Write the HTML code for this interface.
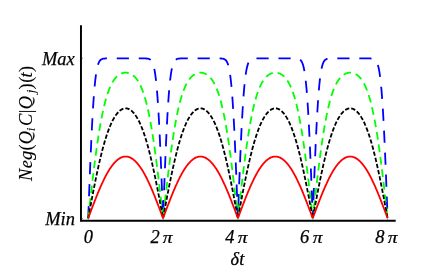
<!DOCTYPE html>
<html><head><meta charset="utf-8"><style>
html,body{margin:0;padding:0;background:#fff;}
svg{display:block;will-change:transform;}
text{font-family:"Liberation Serif",serif;font-style:italic;fill:#000;stroke:#000;stroke-width:0.25px;}
.yl text{stroke-width:0.1px;}
</style></head><body>
<svg width="436" height="270" viewBox="0 0 436 270">
<rect width="436" height="270" fill="#fff"/>
<path d="M88.20,218.30 L88.67,205.76 L89.14,193.34 L89.60,181.16 L90.07,169.33 L90.54,157.94 L91.01,147.09 L91.47,136.85 L91.94,127.28 L92.41,118.43 L92.88,110.31 L93.35,102.95 L93.81,96.33 L94.28,90.44 L94.75,85.25 L95.22,80.72 L95.69,76.81 L96.15,73.46 L96.62,70.63 L97.09,68.25 L97.56,66.27 L98.02,64.64 L98.49,63.32 L98.96,62.24 L99.43,61.38 L99.90,60.70 L100.36,60.16 L100.83,59.74 L101.30,59.42 L101.77,59.17 L102.23,58.97 L102.70,58.83 L103.17,58.72 L103.64,58.64 L104.11,58.57 L104.57,58.53 L105.04,58.49 L105.51,58.47 L105.98,58.45 L106.44,58.44 L106.91,58.43 L107.38,58.42 L107.85,58.41 L108.32,58.41 L108.78,58.41 L109.25,58.41 L109.72,58.40 L110.19,58.40 L110.66,58.40 L111.12,58.40 L111.59,58.40 L112.06,58.40 L112.53,58.40 L112.99,58.40 L113.46,58.40 L113.93,58.40 L114.40,58.40 L114.87,58.40 L115.33,58.40 L115.80,58.40 L116.27,58.40 L116.74,58.40 L117.20,58.40 L117.67,58.40 L118.14,58.40 L118.61,58.40 L119.08,58.40 L119.54,58.40 L120.01,58.40 L120.48,58.40 L120.95,58.40 L121.41,58.40 L121.88,58.40 L122.35,58.40 L122.82,58.40 L123.29,58.40 L123.75,58.40 L124.22,58.40 L124.69,58.40 L125.16,58.40 L125.62,58.40 L126.09,58.40 L126.56,58.40 L127.03,58.40 L127.50,58.40 L127.96,58.40 L128.43,58.40 L128.90,58.40 L129.37,58.40 L129.84,58.40 L130.30,58.40 L130.77,58.40 L131.24,58.40 L131.71,58.40 L132.17,58.40 L132.64,58.40 L133.11,58.40 L133.58,58.40 L134.05,58.40 L134.51,58.40 L134.98,58.40 L135.45,58.40 L135.92,58.40 L136.38,58.40 L136.85,58.40 L137.32,58.40 L137.79,58.40 L138.26,58.40 L138.72,58.40 L139.19,58.40 L139.66,58.40 L140.13,58.40 L140.59,58.40 L141.06,58.40 L141.53,58.40 L142.00,58.41 L142.47,58.41 L142.93,58.41 L143.40,58.41 L143.87,58.42 L144.34,58.43 L144.81,58.44 L145.27,58.45 L145.74,58.47 L146.21,58.49 L146.68,58.53 L147.14,58.57 L147.61,58.64 L148.08,58.72 L148.55,58.83 L149.02,58.97 L149.48,59.17 L149.95,59.42 L150.42,59.74 L150.89,60.16 L151.35,60.70 L151.82,61.38 L152.29,62.24 L152.76,63.32 L153.23,64.64 L153.69,66.27 L154.16,68.25 L154.63,70.63 L155.10,73.46 L155.56,76.81 L156.03,80.72 L156.50,85.25 L156.97,90.44 L157.44,96.33 L157.90,102.95 L158.37,110.31 L158.84,118.43 L159.31,127.28 L159.78,136.85 L160.24,147.09 L160.71,157.94 L161.18,169.33 L161.65,181.16 L162.11,193.34 L162.58,205.76 L163.05,217.40 L163.52,205.76 L163.99,193.34 L164.45,181.16 L164.92,169.33 L165.39,157.94 L165.86,147.09 L166.32,136.85 L166.79,127.28 L167.26,118.43 L167.73,110.31 L168.20,102.95 L168.66,96.33 L169.13,90.44 L169.60,85.25 L170.07,80.72 L170.53,76.81 L171.00,73.46 L171.47,70.63 L171.94,68.25 L172.41,66.27 L172.87,64.64 L173.34,63.32 L173.81,62.24 L174.28,61.38 L174.75,60.70 L175.21,60.16 L175.68,59.74 L176.15,59.42 L176.62,59.17 L177.08,58.97 L177.55,58.83 L178.02,58.72 L178.49,58.64 L178.96,58.57 L179.42,58.53 L179.89,58.49 L180.36,58.47 L180.83,58.45 L181.29,58.44 L181.76,58.43 L182.23,58.42 L182.70,58.41 L183.17,58.41 L183.63,58.41 L184.10,58.41 L184.57,58.40 L185.04,58.40 L185.50,58.40 L185.97,58.40 L186.44,58.40 L186.91,58.40 L187.38,58.40 L187.84,58.40 L188.31,58.40 L188.78,58.40 L189.25,58.40 L189.72,58.40 L190.18,58.40 L190.65,58.40 L191.12,58.40 L191.59,58.40 L192.05,58.40 L192.52,58.40 L192.99,58.40 L193.46,58.40 L193.93,58.40 L194.39,58.40 L194.86,58.40 L195.33,58.40 L195.80,58.40 L196.26,58.40 L196.73,58.40 L197.20,58.40 L197.67,58.40 L198.14,58.40 L198.60,58.40 L199.07,58.40 L199.54,58.40 L200.01,58.40 L200.47,58.40 L200.94,58.40 L201.41,58.40 L201.88,58.40 L202.35,58.40 L202.81,58.40 L203.28,58.40 L203.75,58.40 L204.22,58.40 L204.69,58.40 L205.15,58.40 L205.62,58.40 L206.09,58.40 L206.56,58.40 L207.02,58.40 L207.49,58.40 L207.96,58.40 L208.43,58.40 L208.90,58.40 L209.36,58.40 L209.83,58.40 L210.30,58.40 L210.77,58.40 L211.23,58.40 L211.70,58.40 L212.17,58.40 L212.64,58.40 L213.11,58.40 L213.57,58.40 L214.04,58.40 L214.51,58.40 L214.98,58.40 L215.44,58.40 L215.91,58.40 L216.38,58.40 L216.85,58.41 L217.32,58.41 L217.78,58.41 L218.25,58.41 L218.72,58.42 L219.19,58.43 L219.66,58.44 L220.12,58.45 L220.59,58.47 L221.06,58.49 L221.53,58.53 L221.99,58.57 L222.46,58.64 L222.93,58.72 L223.40,58.83 L223.87,58.97 L224.33,59.17 L224.80,59.42 L225.27,59.74 L225.74,60.16 L226.20,60.70 L226.67,61.38 L227.14,62.24 L227.61,63.32 L228.08,64.64 L228.54,66.27 L229.01,68.25 L229.48,70.63 L229.95,73.46 L230.41,76.81 L230.88,80.72 L231.35,85.25 L231.82,90.44 L232.29,96.33 L232.75,102.95 L233.22,110.31 L233.69,118.43 L234.16,127.28 L234.63,136.85 L235.09,147.09 L235.56,157.94 L236.03,169.33 L236.50,181.16 L236.96,193.34 L237.43,205.76 L237.90,217.40 L238.37,205.76 L238.84,193.34 L239.30,181.16 L239.77,169.33 L240.24,157.94 L240.71,147.09 L241.17,136.85 L241.64,127.28 L242.11,118.43 L242.58,110.31 L243.05,102.95 L243.51,96.33 L243.98,90.44 L244.45,85.25 L244.92,80.72 L245.38,76.81 L245.85,73.46 L246.32,70.63 L246.79,68.25 L247.26,66.27 L247.72,64.64 L248.19,63.32 L248.66,62.24 L249.13,61.38 L249.60,60.70 L250.06,60.16 L250.53,59.74 L251.00,59.42 L251.47,59.17 L251.93,58.97 L252.40,58.83 L252.87,58.72 L253.34,58.64 L253.81,58.57 L254.27,58.53 L254.74,58.49 L255.21,58.47 L255.68,58.45 L256.14,58.44 L256.61,58.43 L257.08,58.42 L257.55,58.41 L258.02,58.41 L258.48,58.41 L258.95,58.41 L259.42,58.40 L259.89,58.40 L260.35,58.40 L260.82,58.40 L261.29,58.40 L261.76,58.40 L262.23,58.40 L262.69,58.40 L263.16,58.40 L263.63,58.40 L264.10,58.40 L264.57,58.40 L265.03,58.40 L265.50,58.40 L265.97,58.40 L266.44,58.40 L266.90,58.40 L267.37,58.40 L267.84,58.40 L268.31,58.40 L268.78,58.40 L269.24,58.40 L269.71,58.40 L270.18,58.40 L270.65,58.40 L271.11,58.40 L271.58,58.40 L272.05,58.40 L272.52,58.40 L272.99,58.40 L273.45,58.40 L273.92,58.40 L274.39,58.40 L274.86,58.40 L275.32,58.40 L275.79,58.40 L276.26,58.40 L276.73,58.40 L277.20,58.40 L277.66,58.40 L278.13,58.40 L278.60,58.40 L279.07,58.40 L279.54,58.40 L280.00,58.40 L280.47,58.40 L280.94,58.40 L281.41,58.40 L281.87,58.40 L282.34,58.40 L282.81,58.40 L283.28,58.40 L283.75,58.40 L284.21,58.40 L284.68,58.40 L285.15,58.40 L285.62,58.40 L286.08,58.40 L286.55,58.40 L287.02,58.40 L287.49,58.40 L287.96,58.40 L288.42,58.40 L288.89,58.40 L289.36,58.40 L289.83,58.40 L290.30,58.40 L290.76,58.40 L291.23,58.40 L291.70,58.41 L292.17,58.41 L292.63,58.41 L293.10,58.41 L293.57,58.42 L294.04,58.43 L294.51,58.44 L294.97,58.45 L295.44,58.47 L295.91,58.49 L296.38,58.53 L296.84,58.57 L297.31,58.64 L297.78,58.72 L298.25,58.83 L298.72,58.97 L299.18,59.17 L299.65,59.42 L300.12,59.74 L300.59,60.16 L301.05,60.70 L301.52,61.38 L301.99,62.24 L302.46,63.32 L302.93,64.64 L303.39,66.27 L303.86,68.25 L304.33,70.63 L304.80,73.46 L305.26,76.81 L305.73,80.72 L306.20,85.25 L306.67,90.44 L307.14,96.33 L307.60,102.95 L308.07,110.31 L308.54,118.43 L309.01,127.28 L309.48,136.85 L309.94,147.09 L310.41,157.94 L310.88,169.33 L311.35,181.16 L311.81,193.34 L312.28,205.76 L312.75,217.40 L313.22,205.76 L313.69,193.34 L314.15,181.16 L314.62,169.33 L315.09,157.94 L315.56,147.09 L316.02,136.85 L316.49,127.28 L316.96,118.43 L317.43,110.31 L317.90,102.95 L318.36,96.33 L318.83,90.44 L319.30,85.25 L319.77,80.72 L320.24,76.81 L320.70,73.46 L321.17,70.63 L321.64,68.25 L322.11,66.27 L322.57,64.64 L323.04,63.32 L323.51,62.24 L323.98,61.38 L324.45,60.70 L324.91,60.16 L325.38,59.74 L325.85,59.42 L326.32,59.17 L326.78,58.97 L327.25,58.83 L327.72,58.72 L328.19,58.64 L328.66,58.57 L329.12,58.53 L329.59,58.49 L330.06,58.47 L330.53,58.45 L330.99,58.44 L331.46,58.43 L331.93,58.42 L332.40,58.41 L332.87,58.41 L333.33,58.41 L333.80,58.41 L334.27,58.40 L334.74,58.40 L335.20,58.40 L335.67,58.40 L336.14,58.40 L336.61,58.40 L337.08,58.40 L337.54,58.40 L338.01,58.40 L338.48,58.40 L338.95,58.40 L339.42,58.40 L339.88,58.40 L340.35,58.40 L340.82,58.40 L341.29,58.40 L341.75,58.40 L342.22,58.40 L342.69,58.40 L343.16,58.40 L343.63,58.40 L344.09,58.40 L344.56,58.40 L345.03,58.40 L345.50,58.40 L345.96,58.40 L346.43,58.40 L346.90,58.40 L347.37,58.40 L347.84,58.40 L348.30,58.40 L348.77,58.40 L349.24,58.40 L349.71,58.40 L350.17,58.40 L350.64,58.40 L351.11,58.40 L351.58,58.40 L352.05,58.40 L352.51,58.40 L352.98,58.40 L353.45,58.40 L353.92,58.40 L354.39,58.40 L354.85,58.40 L355.32,58.40 L355.79,58.40 L356.26,58.40 L356.72,58.40 L357.19,58.40 L357.66,58.40 L358.13,58.40 L358.60,58.40 L359.06,58.40 L359.53,58.40 L360.00,58.40 L360.47,58.40 L360.93,58.40 L361.40,58.40 L361.87,58.40 L362.34,58.40 L362.81,58.40 L363.27,58.40 L363.74,58.40 L364.21,58.40 L364.68,58.40 L365.14,58.40 L365.61,58.40 L366.08,58.40 L366.55,58.41 L367.02,58.41 L367.48,58.41 L367.95,58.41 L368.42,58.42 L368.89,58.43 L369.36,58.44 L369.82,58.45 L370.29,58.47 L370.76,58.49 L371.23,58.53 L371.69,58.57 L372.16,58.64 L372.63,58.72 L373.10,58.83 L373.57,58.97 L374.03,59.17 L374.50,59.42 L374.97,59.74 L375.44,60.16 L375.90,60.70 L376.37,61.38 L376.84,62.24 L377.31,63.32 L377.78,64.64 L378.24,66.27 L378.71,68.25 L379.18,70.63 L379.65,73.46 L380.11,76.81 L380.58,80.72 L381.05,85.25 L381.52,90.44 L381.99,96.33 L382.45,102.95 L382.92,110.31 L383.39,118.43 L383.86,127.28 L384.33,136.85 L384.79,147.09 L385.26,157.94 L385.73,169.33 L386.20,181.16 L386.66,193.34 L387.13,205.76 L387.60,218.30" fill="none" stroke="#0000ff" stroke-width="1.8" stroke-linejoin="bevel" stroke-dasharray="12.2 9.8" stroke-dashoffset="0"/>
<path d="M88.20,218.30 L88.67,214.12 L89.14,209.95 L89.60,205.80 L90.07,201.65 L90.54,197.54 L91.01,193.45 L91.47,189.39 L91.94,185.38 L92.41,181.41 L92.88,177.49 L93.35,173.62 L93.81,169.81 L94.28,166.07 L94.75,162.39 L95.22,158.78 L95.69,155.24 L96.15,151.79 L96.62,148.41 L97.09,145.11 L97.56,141.89 L98.02,138.76 L98.49,135.72 L98.96,132.76 L99.43,129.90 L99.90,127.12 L100.36,124.43 L100.83,121.83 L101.30,119.32 L101.77,116.89 L102.23,114.56 L102.70,112.31 L103.17,110.15 L103.64,108.07 L104.11,106.08 L104.57,104.16 L105.04,102.33 L105.51,100.58 L105.98,98.90 L106.44,97.29 L106.91,95.76 L107.38,94.30 L107.85,92.91 L108.32,91.58 L108.78,90.32 L109.25,89.11 L109.72,87.97 L110.19,86.89 L110.66,85.86 L111.12,84.88 L111.59,83.96 L112.06,83.09 L112.53,82.26 L112.99,81.48 L113.46,80.74 L113.93,80.05 L114.40,79.39 L114.87,78.78 L115.33,78.20 L115.80,77.65 L116.27,77.15 L116.74,76.67 L117.20,76.23 L117.67,75.82 L118.14,75.43 L118.61,75.08 L119.08,74.75 L119.54,74.45 L120.01,74.18 L120.48,73.93 L120.95,73.70 L121.41,73.50 L121.88,73.32 L122.35,73.16 L122.82,73.02 L123.29,72.91 L123.75,72.82 L124.22,72.75 L124.69,72.69 L125.16,72.66 L125.62,72.65 L126.09,72.66 L126.56,72.69 L127.03,72.75 L127.50,72.82 L127.96,72.91 L128.43,73.02 L128.90,73.16 L129.37,73.32 L129.84,73.50 L130.30,73.70 L130.77,73.93 L131.24,74.18 L131.71,74.45 L132.17,74.75 L132.64,75.08 L133.11,75.43 L133.58,75.82 L134.05,76.23 L134.51,76.67 L134.98,77.15 L135.45,77.65 L135.92,78.20 L136.38,78.78 L136.85,79.39 L137.32,80.05 L137.79,80.74 L138.26,81.48 L138.72,82.26 L139.19,83.09 L139.66,83.96 L140.13,84.88 L140.59,85.86 L141.06,86.89 L141.53,87.97 L142.00,89.11 L142.47,90.32 L142.93,91.58 L143.40,92.91 L143.87,94.30 L144.34,95.76 L144.81,97.29 L145.27,98.90 L145.74,100.58 L146.21,102.33 L146.68,104.16 L147.14,106.08 L147.61,108.07 L148.08,110.15 L148.55,112.31 L149.02,114.56 L149.48,116.89 L149.95,119.32 L150.42,121.83 L150.89,124.43 L151.35,127.12 L151.82,129.90 L152.29,132.76 L152.76,135.72 L153.23,138.76 L153.69,141.89 L154.16,145.11 L154.63,148.41 L155.10,151.79 L155.56,155.24 L156.03,158.78 L156.50,162.39 L156.97,166.07 L157.44,169.81 L157.90,173.62 L158.37,177.49 L158.84,181.41 L159.31,185.38 L159.78,189.39 L160.24,193.45 L160.71,197.54 L161.18,201.65 L161.65,205.80 L162.11,209.95 L162.58,214.12 L163.05,218.30 L163.52,214.12 L163.99,209.95 L164.45,205.80 L164.92,201.65 L165.39,197.54 L165.86,193.45 L166.32,189.39 L166.79,185.38 L167.26,181.41 L167.73,177.49 L168.20,173.62 L168.66,169.81 L169.13,166.07 L169.60,162.39 L170.07,158.78 L170.53,155.24 L171.00,151.79 L171.47,148.41 L171.94,145.11 L172.41,141.89 L172.87,138.76 L173.34,135.72 L173.81,132.76 L174.28,129.90 L174.75,127.12 L175.21,124.43 L175.68,121.83 L176.15,119.32 L176.62,116.89 L177.08,114.56 L177.55,112.31 L178.02,110.15 L178.49,108.07 L178.96,106.08 L179.42,104.16 L179.89,102.33 L180.36,100.58 L180.83,98.90 L181.29,97.29 L181.76,95.76 L182.23,94.30 L182.70,92.91 L183.17,91.58 L183.63,90.32 L184.10,89.11 L184.57,87.97 L185.04,86.89 L185.50,85.86 L185.97,84.88 L186.44,83.96 L186.91,83.09 L187.38,82.26 L187.84,81.48 L188.31,80.74 L188.78,80.05 L189.25,79.39 L189.72,78.78 L190.18,78.20 L190.65,77.65 L191.12,77.15 L191.59,76.67 L192.05,76.23 L192.52,75.82 L192.99,75.43 L193.46,75.08 L193.93,74.75 L194.39,74.45 L194.86,74.18 L195.33,73.93 L195.80,73.70 L196.26,73.50 L196.73,73.32 L197.20,73.16 L197.67,73.02 L198.14,72.91 L198.60,72.82 L199.07,72.75 L199.54,72.69 L200.01,72.66 L200.47,72.65 L200.94,72.66 L201.41,72.69 L201.88,72.75 L202.35,72.82 L202.81,72.91 L203.28,73.02 L203.75,73.16 L204.22,73.32 L204.69,73.50 L205.15,73.70 L205.62,73.93 L206.09,74.18 L206.56,74.45 L207.02,74.75 L207.49,75.08 L207.96,75.43 L208.43,75.82 L208.90,76.23 L209.36,76.67 L209.83,77.15 L210.30,77.65 L210.77,78.20 L211.23,78.78 L211.70,79.39 L212.17,80.05 L212.64,80.74 L213.11,81.48 L213.57,82.26 L214.04,83.09 L214.51,83.96 L214.98,84.88 L215.44,85.86 L215.91,86.89 L216.38,87.97 L216.85,89.11 L217.32,90.32 L217.78,91.58 L218.25,92.91 L218.72,94.30 L219.19,95.76 L219.66,97.29 L220.12,98.90 L220.59,100.58 L221.06,102.33 L221.53,104.16 L221.99,106.08 L222.46,108.07 L222.93,110.15 L223.40,112.31 L223.87,114.56 L224.33,116.89 L224.80,119.32 L225.27,121.83 L225.74,124.43 L226.20,127.12 L226.67,129.90 L227.14,132.76 L227.61,135.72 L228.08,138.76 L228.54,141.89 L229.01,145.11 L229.48,148.41 L229.95,151.79 L230.41,155.24 L230.88,158.78 L231.35,162.39 L231.82,166.07 L232.29,169.81 L232.75,173.62 L233.22,177.49 L233.69,181.41 L234.16,185.38 L234.63,189.39 L235.09,193.45 L235.56,197.54 L236.03,201.65 L236.50,205.80 L236.96,209.95 L237.43,214.12 L237.90,218.30 L238.37,214.12 L238.84,209.95 L239.30,205.80 L239.77,201.65 L240.24,197.54 L240.71,193.45 L241.17,189.39 L241.64,185.38 L242.11,181.41 L242.58,177.49 L243.05,173.62 L243.51,169.81 L243.98,166.07 L244.45,162.39 L244.92,158.78 L245.38,155.24 L245.85,151.79 L246.32,148.41 L246.79,145.11 L247.26,141.89 L247.72,138.76 L248.19,135.72 L248.66,132.76 L249.13,129.90 L249.60,127.12 L250.06,124.43 L250.53,121.83 L251.00,119.32 L251.47,116.89 L251.93,114.56 L252.40,112.31 L252.87,110.15 L253.34,108.07 L253.81,106.08 L254.27,104.16 L254.74,102.33 L255.21,100.58 L255.68,98.90 L256.14,97.29 L256.61,95.76 L257.08,94.30 L257.55,92.91 L258.02,91.58 L258.48,90.32 L258.95,89.11 L259.42,87.97 L259.89,86.89 L260.35,85.86 L260.82,84.88 L261.29,83.96 L261.76,83.09 L262.23,82.26 L262.69,81.48 L263.16,80.74 L263.63,80.05 L264.10,79.39 L264.57,78.78 L265.03,78.20 L265.50,77.65 L265.97,77.15 L266.44,76.67 L266.90,76.23 L267.37,75.82 L267.84,75.43 L268.31,75.08 L268.78,74.75 L269.24,74.45 L269.71,74.18 L270.18,73.93 L270.65,73.70 L271.11,73.50 L271.58,73.32 L272.05,73.16 L272.52,73.02 L272.99,72.91 L273.45,72.82 L273.92,72.75 L274.39,72.69 L274.86,72.66 L275.32,72.65 L275.79,72.66 L276.26,72.69 L276.73,72.75 L277.20,72.82 L277.66,72.91 L278.13,73.02 L278.60,73.16 L279.07,73.32 L279.54,73.50 L280.00,73.70 L280.47,73.93 L280.94,74.18 L281.41,74.45 L281.87,74.75 L282.34,75.08 L282.81,75.43 L283.28,75.82 L283.75,76.23 L284.21,76.67 L284.68,77.15 L285.15,77.65 L285.62,78.20 L286.08,78.78 L286.55,79.39 L287.02,80.05 L287.49,80.74 L287.96,81.48 L288.42,82.26 L288.89,83.09 L289.36,83.96 L289.83,84.88 L290.30,85.86 L290.76,86.89 L291.23,87.97 L291.70,89.11 L292.17,90.32 L292.63,91.58 L293.10,92.91 L293.57,94.30 L294.04,95.76 L294.51,97.29 L294.97,98.90 L295.44,100.58 L295.91,102.33 L296.38,104.16 L296.84,106.08 L297.31,108.07 L297.78,110.15 L298.25,112.31 L298.72,114.56 L299.18,116.89 L299.65,119.32 L300.12,121.83 L300.59,124.43 L301.05,127.12 L301.52,129.90 L301.99,132.76 L302.46,135.72 L302.93,138.76 L303.39,141.89 L303.86,145.11 L304.33,148.41 L304.80,151.79 L305.26,155.24 L305.73,158.78 L306.20,162.39 L306.67,166.07 L307.14,169.81 L307.60,173.62 L308.07,177.49 L308.54,181.41 L309.01,185.38 L309.48,189.39 L309.94,193.45 L310.41,197.54 L310.88,201.65 L311.35,205.80 L311.81,209.95 L312.28,214.12 L312.75,218.30 L313.22,214.12 L313.69,209.95 L314.15,205.80 L314.62,201.65 L315.09,197.54 L315.56,193.45 L316.02,189.39 L316.49,185.38 L316.96,181.41 L317.43,177.49 L317.90,173.62 L318.36,169.81 L318.83,166.07 L319.30,162.39 L319.77,158.78 L320.24,155.24 L320.70,151.79 L321.17,148.41 L321.64,145.11 L322.11,141.89 L322.57,138.76 L323.04,135.72 L323.51,132.76 L323.98,129.90 L324.45,127.12 L324.91,124.43 L325.38,121.83 L325.85,119.32 L326.32,116.89 L326.78,114.56 L327.25,112.31 L327.72,110.15 L328.19,108.07 L328.66,106.08 L329.12,104.16 L329.59,102.33 L330.06,100.58 L330.53,98.90 L330.99,97.29 L331.46,95.76 L331.93,94.30 L332.40,92.91 L332.87,91.58 L333.33,90.32 L333.80,89.11 L334.27,87.97 L334.74,86.89 L335.20,85.86 L335.67,84.88 L336.14,83.96 L336.61,83.09 L337.08,82.26 L337.54,81.48 L338.01,80.74 L338.48,80.05 L338.95,79.39 L339.42,78.78 L339.88,78.20 L340.35,77.65 L340.82,77.15 L341.29,76.67 L341.75,76.23 L342.22,75.82 L342.69,75.43 L343.16,75.08 L343.63,74.75 L344.09,74.45 L344.56,74.18 L345.03,73.93 L345.50,73.70 L345.96,73.50 L346.43,73.32 L346.90,73.16 L347.37,73.02 L347.84,72.91 L348.30,72.82 L348.77,72.75 L349.24,72.69 L349.71,72.66 L350.17,72.65 L350.64,72.66 L351.11,72.69 L351.58,72.75 L352.05,72.82 L352.51,72.91 L352.98,73.02 L353.45,73.16 L353.92,73.32 L354.39,73.50 L354.85,73.70 L355.32,73.93 L355.79,74.18 L356.26,74.45 L356.72,74.75 L357.19,75.08 L357.66,75.43 L358.13,75.82 L358.60,76.23 L359.06,76.67 L359.53,77.15 L360.00,77.65 L360.47,78.20 L360.93,78.78 L361.40,79.39 L361.87,80.05 L362.34,80.74 L362.81,81.48 L363.27,82.26 L363.74,83.09 L364.21,83.96 L364.68,84.88 L365.14,85.86 L365.61,86.89 L366.08,87.97 L366.55,89.11 L367.02,90.32 L367.48,91.58 L367.95,92.91 L368.42,94.30 L368.89,95.76 L369.36,97.29 L369.82,98.90 L370.29,100.58 L370.76,102.33 L371.23,104.16 L371.69,106.08 L372.16,108.07 L372.63,110.15 L373.10,112.31 L373.57,114.56 L374.03,116.89 L374.50,119.32 L374.97,121.83 L375.44,124.43 L375.90,127.12 L376.37,129.90 L376.84,132.76 L377.31,135.72 L377.78,138.76 L378.24,141.89 L378.71,145.11 L379.18,148.41 L379.65,151.79 L380.11,155.24 L380.58,158.78 L381.05,162.39 L381.52,166.07 L381.99,169.81 L382.45,173.62 L382.92,177.49 L383.39,181.41 L383.86,185.38 L384.33,189.39 L384.79,193.45 L385.26,197.54 L385.73,201.65 L386.20,205.80 L386.66,209.95 L387.13,214.12 L387.60,218.30" fill="none" stroke="#00ff00" stroke-width="1.8" stroke-linejoin="bevel" stroke-dasharray="7.7 4.9" stroke-dashoffset="0"/>
<path d="M88.20,218.30 L88.67,215.79 L89.14,213.28 L89.60,210.77 L90.07,208.27 L90.54,205.78 L91.01,203.30 L91.47,200.83 L91.94,198.37 L92.41,195.92 L92.88,193.50 L93.35,191.09 L93.81,188.70 L94.28,186.33 L94.75,183.98 L95.22,181.66 L95.69,179.37 L96.15,177.10 L96.62,174.86 L97.09,172.65 L97.56,170.47 L98.02,168.33 L98.49,166.21 L98.96,164.13 L99.43,162.09 L99.90,160.08 L100.36,158.11 L100.83,156.17 L101.30,154.28 L101.77,152.42 L102.23,150.60 L102.70,148.82 L103.17,147.08 L103.64,145.38 L104.11,143.72 L104.57,142.10 L105.04,140.53 L105.51,138.99 L105.98,137.49 L106.44,136.04 L106.91,134.62 L107.38,133.25 L107.85,131.92 L108.32,130.62 L108.78,129.37 L109.25,128.16 L109.72,126.99 L110.19,125.85 L110.66,124.76 L111.12,123.70 L111.59,122.69 L112.06,121.71 L112.53,120.77 L112.99,119.87 L113.46,119.00 L113.93,118.17 L114.40,117.38 L114.87,116.62 L115.33,115.90 L115.80,115.21 L116.27,114.56 L116.74,113.95 L117.20,113.36 L117.67,112.81 L118.14,112.30 L118.61,111.81 L119.08,111.36 L119.54,110.95 L120.01,110.56 L120.48,110.21 L120.95,109.89 L121.41,109.59 L121.88,109.33 L122.35,109.11 L122.82,108.91 L123.29,108.74 L123.75,108.61 L124.22,108.50 L124.69,108.42 L125.16,108.38 L125.62,108.36 L126.09,108.38 L126.56,108.42 L127.03,108.50 L127.50,108.61 L127.96,108.74 L128.43,108.91 L128.90,109.11 L129.37,109.33 L129.84,109.59 L130.30,109.89 L130.77,110.21 L131.24,110.56 L131.71,110.95 L132.17,111.36 L132.64,111.81 L133.11,112.30 L133.58,112.81 L134.05,113.36 L134.51,113.95 L134.98,114.56 L135.45,115.21 L135.92,115.90 L136.38,116.62 L136.85,117.38 L137.32,118.17 L137.79,119.00 L138.26,119.87 L138.72,120.77 L139.19,121.71 L139.66,122.69 L140.13,123.70 L140.59,124.76 L141.06,125.85 L141.53,126.99 L142.00,128.16 L142.47,129.37 L142.93,130.62 L143.40,131.92 L143.87,133.25 L144.34,134.62 L144.81,136.04 L145.27,137.49 L145.74,138.99 L146.21,140.53 L146.68,142.10 L147.14,143.72 L147.61,145.38 L148.08,147.08 L148.55,148.82 L149.02,150.60 L149.48,152.42 L149.95,154.28 L150.42,156.17 L150.89,158.11 L151.35,160.08 L151.82,162.09 L152.29,164.13 L152.76,166.21 L153.23,168.33 L153.69,170.47 L154.16,172.65 L154.63,174.86 L155.10,177.10 L155.56,179.37 L156.03,181.66 L156.50,183.98 L156.97,186.33 L157.44,188.70 L157.90,191.09 L158.37,193.50 L158.84,195.92 L159.31,198.37 L159.78,200.83 L160.24,203.30 L160.71,205.78 L161.18,208.27 L161.65,210.77 L162.11,213.28 L162.58,215.79 L163.05,218.30 L163.52,215.79 L163.99,213.28 L164.45,210.77 L164.92,208.27 L165.39,205.78 L165.86,203.30 L166.32,200.83 L166.79,198.37 L167.26,195.92 L167.73,193.50 L168.20,191.09 L168.66,188.70 L169.13,186.33 L169.60,183.98 L170.07,181.66 L170.53,179.37 L171.00,177.10 L171.47,174.86 L171.94,172.65 L172.41,170.47 L172.87,168.33 L173.34,166.21 L173.81,164.13 L174.28,162.09 L174.75,160.08 L175.21,158.11 L175.68,156.17 L176.15,154.28 L176.62,152.42 L177.08,150.60 L177.55,148.82 L178.02,147.08 L178.49,145.38 L178.96,143.72 L179.42,142.10 L179.89,140.53 L180.36,138.99 L180.83,137.49 L181.29,136.04 L181.76,134.62 L182.23,133.25 L182.70,131.92 L183.17,130.62 L183.63,129.37 L184.10,128.16 L184.57,126.99 L185.04,125.85 L185.50,124.76 L185.97,123.70 L186.44,122.69 L186.91,121.71 L187.38,120.77 L187.84,119.87 L188.31,119.00 L188.78,118.17 L189.25,117.38 L189.72,116.62 L190.18,115.90 L190.65,115.21 L191.12,114.56 L191.59,113.95 L192.05,113.36 L192.52,112.81 L192.99,112.30 L193.46,111.81 L193.93,111.36 L194.39,110.95 L194.86,110.56 L195.33,110.21 L195.80,109.89 L196.26,109.59 L196.73,109.33 L197.20,109.11 L197.67,108.91 L198.14,108.74 L198.60,108.61 L199.07,108.50 L199.54,108.42 L200.01,108.38 L200.47,108.36 L200.94,108.38 L201.41,108.42 L201.88,108.50 L202.35,108.61 L202.81,108.74 L203.28,108.91 L203.75,109.11 L204.22,109.33 L204.69,109.59 L205.15,109.89 L205.62,110.21 L206.09,110.56 L206.56,110.95 L207.02,111.36 L207.49,111.81 L207.96,112.30 L208.43,112.81 L208.90,113.36 L209.36,113.95 L209.83,114.56 L210.30,115.21 L210.77,115.90 L211.23,116.62 L211.70,117.38 L212.17,118.17 L212.64,119.00 L213.11,119.87 L213.57,120.77 L214.04,121.71 L214.51,122.69 L214.98,123.70 L215.44,124.76 L215.91,125.85 L216.38,126.99 L216.85,128.16 L217.32,129.37 L217.78,130.62 L218.25,131.92 L218.72,133.25 L219.19,134.62 L219.66,136.04 L220.12,137.49 L220.59,138.99 L221.06,140.53 L221.53,142.10 L221.99,143.72 L222.46,145.38 L222.93,147.08 L223.40,148.82 L223.87,150.60 L224.33,152.42 L224.80,154.28 L225.27,156.17 L225.74,158.11 L226.20,160.08 L226.67,162.09 L227.14,164.13 L227.61,166.21 L228.08,168.33 L228.54,170.47 L229.01,172.65 L229.48,174.86 L229.95,177.10 L230.41,179.37 L230.88,181.66 L231.35,183.98 L231.82,186.33 L232.29,188.70 L232.75,191.09 L233.22,193.50 L233.69,195.92 L234.16,198.37 L234.63,200.83 L235.09,203.30 L235.56,205.78 L236.03,208.27 L236.50,210.77 L236.96,213.28 L237.43,215.79 L237.90,218.30 L238.37,215.79 L238.84,213.28 L239.30,210.77 L239.77,208.27 L240.24,205.78 L240.71,203.30 L241.17,200.83 L241.64,198.37 L242.11,195.92 L242.58,193.50 L243.05,191.09 L243.51,188.70 L243.98,186.33 L244.45,183.98 L244.92,181.66 L245.38,179.37 L245.85,177.10 L246.32,174.86 L246.79,172.65 L247.26,170.47 L247.72,168.33 L248.19,166.21 L248.66,164.13 L249.13,162.09 L249.60,160.08 L250.06,158.11 L250.53,156.17 L251.00,154.28 L251.47,152.42 L251.93,150.60 L252.40,148.82 L252.87,147.08 L253.34,145.38 L253.81,143.72 L254.27,142.10 L254.74,140.53 L255.21,138.99 L255.68,137.49 L256.14,136.04 L256.61,134.62 L257.08,133.25 L257.55,131.92 L258.02,130.62 L258.48,129.37 L258.95,128.16 L259.42,126.99 L259.89,125.85 L260.35,124.76 L260.82,123.70 L261.29,122.69 L261.76,121.71 L262.23,120.77 L262.69,119.87 L263.16,119.00 L263.63,118.17 L264.10,117.38 L264.57,116.62 L265.03,115.90 L265.50,115.21 L265.97,114.56 L266.44,113.95 L266.90,113.36 L267.37,112.81 L267.84,112.30 L268.31,111.81 L268.78,111.36 L269.24,110.95 L269.71,110.56 L270.18,110.21 L270.65,109.89 L271.11,109.59 L271.58,109.33 L272.05,109.11 L272.52,108.91 L272.99,108.74 L273.45,108.61 L273.92,108.50 L274.39,108.42 L274.86,108.38 L275.32,108.36 L275.79,108.38 L276.26,108.42 L276.73,108.50 L277.20,108.61 L277.66,108.74 L278.13,108.91 L278.60,109.11 L279.07,109.33 L279.54,109.59 L280.00,109.89 L280.47,110.21 L280.94,110.56 L281.41,110.95 L281.87,111.36 L282.34,111.81 L282.81,112.30 L283.28,112.81 L283.75,113.36 L284.21,113.95 L284.68,114.56 L285.15,115.21 L285.62,115.90 L286.08,116.62 L286.55,117.38 L287.02,118.17 L287.49,119.00 L287.96,119.87 L288.42,120.77 L288.89,121.71 L289.36,122.69 L289.83,123.70 L290.30,124.76 L290.76,125.85 L291.23,126.99 L291.70,128.16 L292.17,129.37 L292.63,130.62 L293.10,131.92 L293.57,133.25 L294.04,134.62 L294.51,136.04 L294.97,137.49 L295.44,138.99 L295.91,140.53 L296.38,142.10 L296.84,143.72 L297.31,145.38 L297.78,147.08 L298.25,148.82 L298.72,150.60 L299.18,152.42 L299.65,154.28 L300.12,156.17 L300.59,158.11 L301.05,160.08 L301.52,162.09 L301.99,164.13 L302.46,166.21 L302.93,168.33 L303.39,170.47 L303.86,172.65 L304.33,174.86 L304.80,177.10 L305.26,179.37 L305.73,181.66 L306.20,183.98 L306.67,186.33 L307.14,188.70 L307.60,191.09 L308.07,193.50 L308.54,195.92 L309.01,198.37 L309.48,200.83 L309.94,203.30 L310.41,205.78 L310.88,208.27 L311.35,210.77 L311.81,213.28 L312.28,215.79 L312.75,218.30 L313.22,215.79 L313.69,213.28 L314.15,210.77 L314.62,208.27 L315.09,205.78 L315.56,203.30 L316.02,200.83 L316.49,198.37 L316.96,195.92 L317.43,193.50 L317.90,191.09 L318.36,188.70 L318.83,186.33 L319.30,183.98 L319.77,181.66 L320.24,179.37 L320.70,177.10 L321.17,174.86 L321.64,172.65 L322.11,170.47 L322.57,168.33 L323.04,166.21 L323.51,164.13 L323.98,162.09 L324.45,160.08 L324.91,158.11 L325.38,156.17 L325.85,154.28 L326.32,152.42 L326.78,150.60 L327.25,148.82 L327.72,147.08 L328.19,145.38 L328.66,143.72 L329.12,142.10 L329.59,140.53 L330.06,138.99 L330.53,137.49 L330.99,136.04 L331.46,134.62 L331.93,133.25 L332.40,131.92 L332.87,130.62 L333.33,129.37 L333.80,128.16 L334.27,126.99 L334.74,125.85 L335.20,124.76 L335.67,123.70 L336.14,122.69 L336.61,121.71 L337.08,120.77 L337.54,119.87 L338.01,119.00 L338.48,118.17 L338.95,117.38 L339.42,116.62 L339.88,115.90 L340.35,115.21 L340.82,114.56 L341.29,113.95 L341.75,113.36 L342.22,112.81 L342.69,112.30 L343.16,111.81 L343.63,111.36 L344.09,110.95 L344.56,110.56 L345.03,110.21 L345.50,109.89 L345.96,109.59 L346.43,109.33 L346.90,109.11 L347.37,108.91 L347.84,108.74 L348.30,108.61 L348.77,108.50 L349.24,108.42 L349.71,108.38 L350.17,108.36 L350.64,108.38 L351.11,108.42 L351.58,108.50 L352.05,108.61 L352.51,108.74 L352.98,108.91 L353.45,109.11 L353.92,109.33 L354.39,109.59 L354.85,109.89 L355.32,110.21 L355.79,110.56 L356.26,110.95 L356.72,111.36 L357.19,111.81 L357.66,112.30 L358.13,112.81 L358.60,113.36 L359.06,113.95 L359.53,114.56 L360.00,115.21 L360.47,115.90 L360.93,116.62 L361.40,117.38 L361.87,118.17 L362.34,119.00 L362.81,119.87 L363.27,120.77 L363.74,121.71 L364.21,122.69 L364.68,123.70 L365.14,124.76 L365.61,125.85 L366.08,126.99 L366.55,128.16 L367.02,129.37 L367.48,130.62 L367.95,131.92 L368.42,133.25 L368.89,134.62 L369.36,136.04 L369.82,137.49 L370.29,138.99 L370.76,140.53 L371.23,142.10 L371.69,143.72 L372.16,145.38 L372.63,147.08 L373.10,148.82 L373.57,150.60 L374.03,152.42 L374.50,154.28 L374.97,156.17 L375.44,158.11 L375.90,160.08 L376.37,162.09 L376.84,164.13 L377.31,166.21 L377.78,168.33 L378.24,170.47 L378.71,172.65 L379.18,174.86 L379.65,177.10 L380.11,179.37 L380.58,181.66 L381.05,183.98 L381.52,186.33 L381.99,188.70 L382.45,191.09 L382.92,193.50 L383.39,195.92 L383.86,198.37 L384.33,200.83 L384.79,203.30 L385.26,205.78 L385.73,208.27 L386.20,210.77 L386.66,213.28 L387.13,215.79 L387.60,218.30" fill="none" stroke="#000000" stroke-width="1.8" stroke-linejoin="bevel" stroke-dasharray="4.35 1.96" stroke-dashoffset="0.55"/>
<path d="M88.20,218.30 L88.67,217.04 L89.14,215.78 L89.60,214.52 L90.07,213.26 L90.54,212.00 L91.01,210.75 L91.47,209.50 L91.94,208.26 L92.41,207.02 L92.88,205.78 L93.35,204.55 L93.81,203.33 L94.28,202.12 L94.75,200.91 L95.22,199.71 L95.69,198.52 L96.15,197.34 L96.62,196.17 L97.09,195.00 L97.56,193.85 L98.02,192.71 L98.49,191.59 L98.96,190.47 L99.43,189.37 L99.90,188.28 L100.36,187.20 L100.83,186.14 L101.30,185.09 L101.77,184.06 L102.23,183.04 L102.70,182.04 L103.17,181.05 L103.64,180.08 L104.11,179.13 L104.57,178.19 L105.04,177.27 L105.51,176.36 L105.98,175.48 L106.44,174.61 L106.91,173.76 L107.38,172.93 L107.85,172.12 L108.32,171.33 L108.78,170.56 L109.25,169.80 L109.72,169.07 L110.19,168.35 L110.66,167.66 L111.12,166.98 L111.59,166.33 L112.06,165.69 L112.53,165.08 L112.99,164.49 L113.46,163.91 L113.93,163.36 L114.40,162.83 L114.87,162.32 L115.33,161.83 L115.80,161.37 L116.27,160.92 L116.74,160.50 L117.20,160.09 L117.67,159.71 L118.14,159.35 L118.61,159.01 L119.08,158.70 L119.54,158.40 L120.01,158.13 L120.48,157.88 L120.95,157.65 L121.41,157.44 L121.88,157.25 L122.35,157.09 L122.82,156.94 L123.29,156.82 L123.75,156.73 L124.22,156.65 L124.69,156.59 L125.16,156.56 L125.62,156.55 L126.09,156.56 L126.56,156.59 L127.03,156.65 L127.50,156.73 L127.96,156.82 L128.43,156.94 L128.90,157.09 L129.37,157.25 L129.84,157.44 L130.30,157.65 L130.77,157.88 L131.24,158.13 L131.71,158.40 L132.17,158.70 L132.64,159.01 L133.11,159.35 L133.58,159.71 L134.05,160.09 L134.51,160.50 L134.98,160.92 L135.45,161.37 L135.92,161.83 L136.38,162.32 L136.85,162.83 L137.32,163.36 L137.79,163.91 L138.26,164.49 L138.72,165.08 L139.19,165.69 L139.66,166.33 L140.13,166.98 L140.59,167.66 L141.06,168.35 L141.53,169.07 L142.00,169.80 L142.47,170.56 L142.93,171.33 L143.40,172.12 L143.87,172.93 L144.34,173.76 L144.81,174.61 L145.27,175.48 L145.74,176.36 L146.21,177.27 L146.68,178.19 L147.14,179.13 L147.61,180.08 L148.08,181.05 L148.55,182.04 L149.02,183.04 L149.48,184.06 L149.95,185.09 L150.42,186.14 L150.89,187.20 L151.35,188.28 L151.82,189.37 L152.29,190.47 L152.76,191.59 L153.23,192.71 L153.69,193.85 L154.16,195.00 L154.63,196.17 L155.10,197.34 L155.56,198.52 L156.03,199.71 L156.50,200.91 L156.97,202.12 L157.44,203.33 L157.90,204.55 L158.37,205.78 L158.84,207.02 L159.31,208.26 L159.78,209.50 L160.24,210.75 L160.71,212.00 L161.18,213.26 L161.65,214.52 L162.11,215.78 L162.58,217.04 L163.05,218.30 L163.52,217.04 L163.99,215.78 L164.45,214.52 L164.92,213.26 L165.39,212.00 L165.86,210.75 L166.32,209.50 L166.79,208.26 L167.26,207.02 L167.73,205.78 L168.20,204.55 L168.66,203.33 L169.13,202.12 L169.60,200.91 L170.07,199.71 L170.53,198.52 L171.00,197.34 L171.47,196.17 L171.94,195.00 L172.41,193.85 L172.87,192.71 L173.34,191.59 L173.81,190.47 L174.28,189.37 L174.75,188.28 L175.21,187.20 L175.68,186.14 L176.15,185.09 L176.62,184.06 L177.08,183.04 L177.55,182.04 L178.02,181.05 L178.49,180.08 L178.96,179.13 L179.42,178.19 L179.89,177.27 L180.36,176.36 L180.83,175.48 L181.29,174.61 L181.76,173.76 L182.23,172.93 L182.70,172.12 L183.17,171.33 L183.63,170.56 L184.10,169.80 L184.57,169.07 L185.04,168.35 L185.50,167.66 L185.97,166.98 L186.44,166.33 L186.91,165.69 L187.38,165.08 L187.84,164.49 L188.31,163.91 L188.78,163.36 L189.25,162.83 L189.72,162.32 L190.18,161.83 L190.65,161.37 L191.12,160.92 L191.59,160.50 L192.05,160.09 L192.52,159.71 L192.99,159.35 L193.46,159.01 L193.93,158.70 L194.39,158.40 L194.86,158.13 L195.33,157.88 L195.80,157.65 L196.26,157.44 L196.73,157.25 L197.20,157.09 L197.67,156.94 L198.14,156.82 L198.60,156.73 L199.07,156.65 L199.54,156.59 L200.01,156.56 L200.47,156.55 L200.94,156.56 L201.41,156.59 L201.88,156.65 L202.35,156.73 L202.81,156.82 L203.28,156.94 L203.75,157.09 L204.22,157.25 L204.69,157.44 L205.15,157.65 L205.62,157.88 L206.09,158.13 L206.56,158.40 L207.02,158.70 L207.49,159.01 L207.96,159.35 L208.43,159.71 L208.90,160.09 L209.36,160.50 L209.83,160.92 L210.30,161.37 L210.77,161.83 L211.23,162.32 L211.70,162.83 L212.17,163.36 L212.64,163.91 L213.11,164.49 L213.57,165.08 L214.04,165.69 L214.51,166.33 L214.98,166.98 L215.44,167.66 L215.91,168.35 L216.38,169.07 L216.85,169.80 L217.32,170.56 L217.78,171.33 L218.25,172.12 L218.72,172.93 L219.19,173.76 L219.66,174.61 L220.12,175.48 L220.59,176.36 L221.06,177.27 L221.53,178.19 L221.99,179.13 L222.46,180.08 L222.93,181.05 L223.40,182.04 L223.87,183.04 L224.33,184.06 L224.80,185.09 L225.27,186.14 L225.74,187.20 L226.20,188.28 L226.67,189.37 L227.14,190.47 L227.61,191.59 L228.08,192.71 L228.54,193.85 L229.01,195.00 L229.48,196.17 L229.95,197.34 L230.41,198.52 L230.88,199.71 L231.35,200.91 L231.82,202.12 L232.29,203.33 L232.75,204.55 L233.22,205.78 L233.69,207.02 L234.16,208.26 L234.63,209.50 L235.09,210.75 L235.56,212.00 L236.03,213.26 L236.50,214.52 L236.96,215.78 L237.43,217.04 L237.90,218.30 L238.37,217.04 L238.84,215.78 L239.30,214.52 L239.77,213.26 L240.24,212.00 L240.71,210.75 L241.17,209.50 L241.64,208.26 L242.11,207.02 L242.58,205.78 L243.05,204.55 L243.51,203.33 L243.98,202.12 L244.45,200.91 L244.92,199.71 L245.38,198.52 L245.85,197.34 L246.32,196.17 L246.79,195.00 L247.26,193.85 L247.72,192.71 L248.19,191.59 L248.66,190.47 L249.13,189.37 L249.60,188.28 L250.06,187.20 L250.53,186.14 L251.00,185.09 L251.47,184.06 L251.93,183.04 L252.40,182.04 L252.87,181.05 L253.34,180.08 L253.81,179.13 L254.27,178.19 L254.74,177.27 L255.21,176.36 L255.68,175.48 L256.14,174.61 L256.61,173.76 L257.08,172.93 L257.55,172.12 L258.02,171.33 L258.48,170.56 L258.95,169.80 L259.42,169.07 L259.89,168.35 L260.35,167.66 L260.82,166.98 L261.29,166.33 L261.76,165.69 L262.23,165.08 L262.69,164.49 L263.16,163.91 L263.63,163.36 L264.10,162.83 L264.57,162.32 L265.03,161.83 L265.50,161.37 L265.97,160.92 L266.44,160.50 L266.90,160.09 L267.37,159.71 L267.84,159.35 L268.31,159.01 L268.78,158.70 L269.24,158.40 L269.71,158.13 L270.18,157.88 L270.65,157.65 L271.11,157.44 L271.58,157.25 L272.05,157.09 L272.52,156.94 L272.99,156.82 L273.45,156.73 L273.92,156.65 L274.39,156.59 L274.86,156.56 L275.32,156.55 L275.79,156.56 L276.26,156.59 L276.73,156.65 L277.20,156.73 L277.66,156.82 L278.13,156.94 L278.60,157.09 L279.07,157.25 L279.54,157.44 L280.00,157.65 L280.47,157.88 L280.94,158.13 L281.41,158.40 L281.87,158.70 L282.34,159.01 L282.81,159.35 L283.28,159.71 L283.75,160.09 L284.21,160.50 L284.68,160.92 L285.15,161.37 L285.62,161.83 L286.08,162.32 L286.55,162.83 L287.02,163.36 L287.49,163.91 L287.96,164.49 L288.42,165.08 L288.89,165.69 L289.36,166.33 L289.83,166.98 L290.30,167.66 L290.76,168.35 L291.23,169.07 L291.70,169.80 L292.17,170.56 L292.63,171.33 L293.10,172.12 L293.57,172.93 L294.04,173.76 L294.51,174.61 L294.97,175.48 L295.44,176.36 L295.91,177.27 L296.38,178.19 L296.84,179.13 L297.31,180.08 L297.78,181.05 L298.25,182.04 L298.72,183.04 L299.18,184.06 L299.65,185.09 L300.12,186.14 L300.59,187.20 L301.05,188.28 L301.52,189.37 L301.99,190.47 L302.46,191.59 L302.93,192.71 L303.39,193.85 L303.86,195.00 L304.33,196.17 L304.80,197.34 L305.26,198.52 L305.73,199.71 L306.20,200.91 L306.67,202.12 L307.14,203.33 L307.60,204.55 L308.07,205.78 L308.54,207.02 L309.01,208.26 L309.48,209.50 L309.94,210.75 L310.41,212.00 L310.88,213.26 L311.35,214.52 L311.81,215.78 L312.28,217.04 L312.75,218.30 L313.22,217.04 L313.69,215.78 L314.15,214.52 L314.62,213.26 L315.09,212.00 L315.56,210.75 L316.02,209.50 L316.49,208.26 L316.96,207.02 L317.43,205.78 L317.90,204.55 L318.36,203.33 L318.83,202.12 L319.30,200.91 L319.77,199.71 L320.24,198.52 L320.70,197.34 L321.17,196.17 L321.64,195.00 L322.11,193.85 L322.57,192.71 L323.04,191.59 L323.51,190.47 L323.98,189.37 L324.45,188.28 L324.91,187.20 L325.38,186.14 L325.85,185.09 L326.32,184.06 L326.78,183.04 L327.25,182.04 L327.72,181.05 L328.19,180.08 L328.66,179.13 L329.12,178.19 L329.59,177.27 L330.06,176.36 L330.53,175.48 L330.99,174.61 L331.46,173.76 L331.93,172.93 L332.40,172.12 L332.87,171.33 L333.33,170.56 L333.80,169.80 L334.27,169.07 L334.74,168.35 L335.20,167.66 L335.67,166.98 L336.14,166.33 L336.61,165.69 L337.08,165.08 L337.54,164.49 L338.01,163.91 L338.48,163.36 L338.95,162.83 L339.42,162.32 L339.88,161.83 L340.35,161.37 L340.82,160.92 L341.29,160.50 L341.75,160.09 L342.22,159.71 L342.69,159.35 L343.16,159.01 L343.63,158.70 L344.09,158.40 L344.56,158.13 L345.03,157.88 L345.50,157.65 L345.96,157.44 L346.43,157.25 L346.90,157.09 L347.37,156.94 L347.84,156.82 L348.30,156.73 L348.77,156.65 L349.24,156.59 L349.71,156.56 L350.17,156.55 L350.64,156.56 L351.11,156.59 L351.58,156.65 L352.05,156.73 L352.51,156.82 L352.98,156.94 L353.45,157.09 L353.92,157.25 L354.39,157.44 L354.85,157.65 L355.32,157.88 L355.79,158.13 L356.26,158.40 L356.72,158.70 L357.19,159.01 L357.66,159.35 L358.13,159.71 L358.60,160.09 L359.06,160.50 L359.53,160.92 L360.00,161.37 L360.47,161.83 L360.93,162.32 L361.40,162.83 L361.87,163.36 L362.34,163.91 L362.81,164.49 L363.27,165.08 L363.74,165.69 L364.21,166.33 L364.68,166.98 L365.14,167.66 L365.61,168.35 L366.08,169.07 L366.55,169.80 L367.02,170.56 L367.48,171.33 L367.95,172.12 L368.42,172.93 L368.89,173.76 L369.36,174.61 L369.82,175.48 L370.29,176.36 L370.76,177.27 L371.23,178.19 L371.69,179.13 L372.16,180.08 L372.63,181.05 L373.10,182.04 L373.57,183.04 L374.03,184.06 L374.50,185.09 L374.97,186.14 L375.44,187.20 L375.90,188.28 L376.37,189.37 L376.84,190.47 L377.31,191.59 L377.78,192.71 L378.24,193.85 L378.71,195.00 L379.18,196.17 L379.65,197.34 L380.11,198.52 L380.58,199.71 L381.05,200.91 L381.52,202.12 L381.99,203.33 L382.45,204.55 L382.92,205.78 L383.39,207.02 L383.86,208.26 L384.33,209.50 L384.79,210.75 L385.26,212.00 L385.73,213.26 L386.20,214.52 L386.66,215.78 L387.13,217.04 L387.60,218.30" fill="none" stroke="#ff0000" stroke-width="1.8" stroke-linejoin="bevel"/>
<path d="M80.97,25.3 V220.8 H395.7" fill="none" stroke="#000" stroke-width="1.95" stroke-linejoin="miter"/>
<g stroke="#777" stroke-width="0.8">
<line x1="88.20" y1="218.6" x2="88.20" y2="220"/><line x1="163.05" y1="218.6" x2="163.05" y2="220"/><line x1="237.90" y1="218.6" x2="237.90" y2="220"/><line x1="312.75" y1="218.6" x2="312.75" y2="220"/><line x1="387.60" y1="218.6" x2="387.60" y2="220"/>
<line x1="81.9" y1="58.2" x2="83" y2="58.2"/>
<line x1="81.9" y1="218.5" x2="83" y2="218.5"/>
</g>
<g font-size="18.4">
<text x="74.6" y="64.7" text-anchor="end">Max</text>
<text x="74.9" y="224.7" text-anchor="end">Min</text>
<text x="83.7" y="243">0</text>
<text x="150.5" y="243">2</text><text transform="translate(162.63,243) scale(1.06,0.87)">π</text>
<text x="225.2" y="243">4</text><text transform="translate(237.63,243) scale(1.06,0.87)">π</text>
<text x="300.1" y="243">6</text><text transform="translate(312.63,243) scale(1.06,0.87)">π</text>
<text x="375.25" y="243">8</text><text transform="translate(387.63,243) scale(1.06,0.87)">π</text>
<text x="230.6" y="265.1">δt</text>
<g class="yl" transform="translate(32.2,0) rotate(-90)"><text x="-181.0" y="0" font-size="18.4">N</text><text x="-168.28" y="0" font-size="18.4">e</text><text x="-160.0" y="0" font-size="18.4">g</text><text x="-150.48" y="0" font-size="18.4" style="font-style:normal">(</text><text x="-144.3" y="0" font-size="18.4">O</text><path transform="translate(-143.30,0)" d="M2.2,-0.6 C4.2,1.9 8,3.5 11,0.9 C8.4,1.9 5.2,0.9 2.2,-0.6Z" fill="#000" stroke="#000" stroke-width="0.35"/><text x="-131.15" y="2.6" font-size="12.9">i</text><text x="-126.05" y="0" font-size="18.4">C</text><text x="-113.33" y="0" font-size="18.4" style="font-style:normal">|</text><text x="-109.3" y="0" font-size="18.4">O</text><path transform="translate(-108.30,0)" d="M2.2,-0.6 C4.2,1.9 8,3.5 11,0.9 C8.4,1.9 5.2,0.9 2.2,-0.6Z" fill="#000" stroke="#000" stroke-width="0.35"/><text x="-93.3" y="2.6" font-size="12.9">j</text><text x="-89.48" y="0" font-size="18.4" style="font-style:normal">)</text><text x="-82.78" y="0" font-size="18.4" style="font-style:normal">(</text><text x="-77.53" y="0" font-size="18.4">t</text><text x="-71.93" y="0" font-size="18.4" style="font-style:normal">)</text></g>
</g>
</svg>
</body></html>
